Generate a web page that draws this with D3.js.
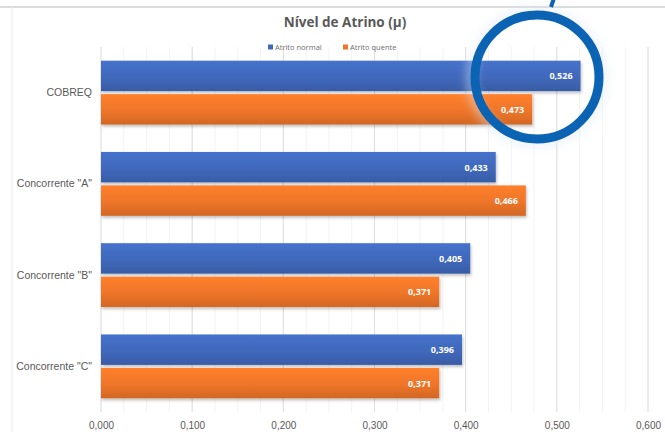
<!DOCTYPE html>
<html>
<head>
<meta charset="utf-8">
<script src="https://cdn.jsdelivr.net/npm/d3@7"></script>
<style>
  body { margin: 0; background: #fff; }
  svg { display: block; font-family: "Open Sans", "Noto Sans", sans-serif; }
</style>
</head>
<body>
<svg id="chart" width="665" height="432"></svg>
<script>
var categories = ['COBREQ', 'Concorrente "A"', 'Concorrente "B"', 'Concorrente "C"'];
var seriesNames = ['Atrito normal', 'Atrito quente'];
var normalValues = [0.526, 0.433, 0.405, 0.396];
var quenteValues = [0.473, 0.466, 0.371, 0.371];
var tickValues = [0, 0.1, 0.2, 0.3, 0.4, 0.5, 0.6];
var colors = ['#4068bb', '#ee7529'];

var svg = d3.select("#chart");
var width = 665, height = 432;
var plotLeft = 101, plotRight = 648, plotTop = 47, plotBottom = 412;

var fmt = function(v){ return d3.format(".3f")(v).replace(".", ","); };

var xScale = d3.scaleLinear()
  .domain([0, 0.6])
  .range([plotLeft, plotRight]);

var yScale = d3.scaleBand()
  .domain(categories)
  .range([plotTop, plotBottom])
  .paddingInner(0.3)
  .paddingOuter(0.15);

var ySub = d3.scaleBand()
  .domain(seriesNames)
  .range([0, yScale.bandwidth()])
  .paddingInner(0.09);

var defs = svg.append("defs");
colors.forEach(function(c, i){
  var g = defs.append("linearGradient")
    .attr("id", "grad" + i)
    .attr("x1", 0).attr("y1", 0).attr("x2", 0).attr("y2", 1);
  g.append("stop").attr("offset", "0%").attr("stop-color", d3.color(c).brighter(0.25));
  g.append("stop").attr("offset", "55%").attr("stop-color", c);
  g.append("stop").attr("offset", "100%").attr("stop-color", d3.color(c).darker(0.35));
});
var shadow = defs.append("filter").attr("id", "shadow")
  .attr("x", "-5%").attr("y", "-20%").attr("width", "115%").attr("height", "160%");
shadow.append("feDropShadow")
  .attr("dx", 1).attr("dy", 2).attr("stdDeviation", 1.5)
  .attr("flood-color", "#000").attr("flood-opacity", 0.25);
var glow = defs.append("filter").attr("id", "glow")
  .attr("x", "-30%").attr("y", "-30%").attr("width", "160%").attr("height", "160%");
glow.append("feGaussianBlur").attr("stdDeviation", 5);

// chart frame
svg.append("line")
  .attr("x1", 0).attr("x2", width).attr("y1", 7).attr("y2", 7)
  .attr("stroke", "#d0d0d0").attr("stroke-width", 1.5);
svg.append("line")
  .attr("x1", 12).attr("x2", 12).attr("y1", 7).attr("y2", height)
  .attr("stroke", "#ececec");

// minor grid
svg.append("g")
  .selectAll("line")
  .data(d3.range(0, 0.601, 0.025))
  .join("line")
  .attr("x1", function(d){ return xScale(d); })
  .attr("x2", function(d){ return xScale(d); })
  .attr("y1", plotTop).attr("y2", plotBottom)
  .attr("stroke", "#f3f3f3");

// major grid
svg.append("g")
  .selectAll("line")
  .data(tickValues)
  .join("line")
  .attr("x1", function(d){ return xScale(d); })
  .attr("x2", function(d){ return xScale(d); })
  .attr("y1", plotTop).attr("y2", plotBottom)
  .attr("stroke", "#dedede");

// x axis labels
var xAxis = d3.axisBottom(xScale)
  .tickValues(tickValues)
  .tickFormat(fmt)
  .tickSize(0)
  .tickPadding(10);
var xg = svg.append("g")
  .attr("transform", "translate(0," + plotBottom + ")")
  .call(xAxis);
xg.select(".domain").remove();
xg.selectAll("text")
  .attr("fill", "#595959")
  .style("font-size", "10px");

// y axis labels
var yAxis = d3.axisLeft(yScale).tickSize(0).tickPadding(9);
var yg = svg.append("g")
  .attr("transform", "translate(" + plotLeft + ",0)")
  .call(yAxis);
yg.select(".domain").remove();
yg.selectAll("text")
  .attr("fill", "#595959")
  .style("font-size", "10.5px");

// bars
var rows = categories.map(function(c, i){
  return {cat: c, values: [normalValues[i], quenteValues[i]]};
});

var groups = svg.append("g")
  .selectAll("g")
  .data(rows)
  .join("g")
  .attr("transform", function(d){ return "translate(0," + yScale(d.cat) + ")"; });

groups.selectAll("rect")
  .data(function(d){ return d.values.map(function(v, j){ return {name: seriesNames[j], value: v, idx: j}; }); })
  .join("rect")
  .attr("x", xScale(0))
  .attr("y", function(d){ return ySub(d.name); })
  .attr("width", function(d){ return xScale(d.value) - xScale(0); })
  .attr("height", ySub.bandwidth())
  .attr("fill", function(d){ return "url(#grad" + d.idx + ")"; })
  .attr("filter", "url(#shadow)");

groups.selectAll("text")
  .data(function(d){ return d.values.map(function(v, j){ return {name: seriesNames[j], value: v}; }); })
  .join("text")
  .attr("x", function(d){ return xScale(d.value) - 8; })
  .attr("y", function(d){ return ySub(d.name) + ySub.bandwidth()/2; })
  .attr("text-anchor", "end")
  .attr("dominant-baseline", "central")
  .attr("fill", "#fff")
  .style("font-size", "9px")
  .style("font-weight", "bold")
  .text(function(d){ return fmt(d.value); });

// title
svg.append("text")
  .attr("x", 345).attr("y", 27)
  .attr("text-anchor", "middle")
  .attr("fill", "#595959")
  .style("font-size", "13.5px")
  .style("font-weight", "bold")
  .text("Nível de Atrino (µ)");

// legend
var legend = svg.append("g")
  .selectAll("g")
  .data(seriesNames)
  .join("g")
  .attr("transform", function(d, i){ return "translate(" + (268 + i*75) + ",47)"; });
legend.append("rect")
  .attr("x", 0).attr("y", -2.5)
  .attr("width", 5).attr("height", 5)
  .attr("fill", function(d, i){ return colors[i]; });
legend.append("text")
  .attr("x", 7).attr("y", 0)
  .attr("dominant-baseline", "central")
  .attr("fill", "#6f6f6f")
  .style("font-size", "7.5px")
  .text(function(d){ return d; });

// highlight circle around COBREQ values
var cx = 537, cy = 77, r = 62;
svg.append("circle")
  .attr("cx", cx).attr("cy", cy).attr("r", r + 4)
  .attr("fill", "none")
  .attr("stroke", "#dbe8f5")
  .attr("stroke-width", 10)
  .attr("opacity", 0.45)
  .attr("filter", "url(#glow)");
svg.append("circle")
  .attr("cx", cx).attr("cy", cy).attr("r", r)
  .attr("fill", "none")
  .attr("stroke", "#0b63b3")
  .attr("stroke-width", 9);
svg.append("line")
  .attr("x1", 551).attr("y1", 7)
  .attr("x2", 554).attr("y2", -2)
  .attr("stroke", "#0b63b3")
  .attr("stroke-width", 4);
</script>
</body>
</html>
